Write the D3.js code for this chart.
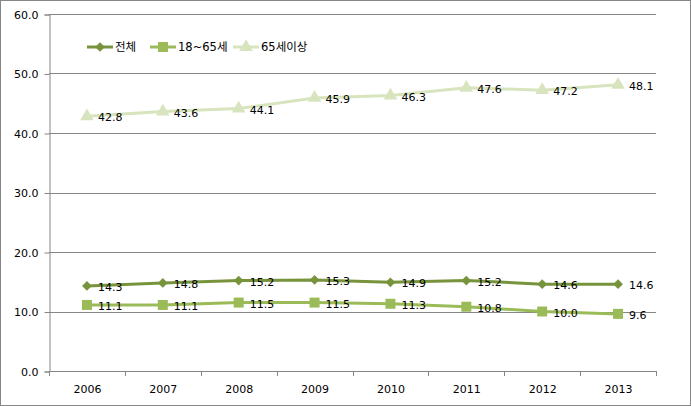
<!DOCTYPE html>
<html><head><meta charset="utf-8">
<script src="https://cdn.jsdelivr.net/npm/d3@7"></script>
<style>body{margin:0;background:#fff}svg{display:block}</style>
</head><body>
<svg id="c" width="691" height="406"></svg>
<script>
const years = ["2006","2007","2008","2009","2010","2011","2012","2013"];
const seriesNames = ["전체","18~65세","65세이상"];
const total = [14.3,14.8,15.2,15.3,14.9,15.2,14.6,14.6];
const age18to65 = [11.1,11.1,11.5,11.5,11.3,10.8,10.0,9.6];
const age65plus = [42.8,43.6,44.1,45.9,46.3,47.6,47.2,48.1];
const yTicks = [0,10,20,30,40,50,60];
const colors = ["#77933C","#9BBB59","#D7E4BD"];
const symbols = [d3.symbolDiamond2 || d3.symbolDiamond, d3.symbolSquare, d3.symbolTriangle];
const symSizes = [60,100,80];

const svg = d3.select("#c");
const font = "'DejaVu Sans','Noto Sans CJK KR',sans-serif";
svg.append("rect").attr("x",0.5).attr("y",0.5).attr("width",690).attr("height",405)
  .attr("fill","#fff").attr("stroke","#868686");

const L=49,R=656,T=14,B=371;
const x = d3.scaleBand().domain(years).range([L,R]);
const y = d3.scaleLinear().domain([0,60]).range([B,T]);

svg.append("g").selectAll("line").data(yTicks.filter(d=>d>0)).join("line")
  .attr("x1",L).attr("x2",R).attr("y1",d=>Math.round(y(d))+0.5).attr("y2",d=>Math.round(y(d))+0.5)
  .attr("stroke","#868686").attr("stroke-width",1);

const yAxis = svg.append("g").attr("transform",`translate(${L+0.5},0.5)`)
  .call(d3.axisLeft(y).tickValues(yTicks).tickFormat(d3.format(".1f")).tickSize(5).tickPadding(6));
const xAxis = svg.append("g").attr("transform",`translate(0.5,${B+0.5})`)
  .call(d3.axisBottom(x).tickSize(0).tickPadding(14));
svg.append("g").selectAll("line").data(years.concat(["end"])).join("line")
  .attr("x1",(d,i)=>Math.round(L+i*x.bandwidth())+0.5).attr("x2",(d,i)=>Math.round(L+i*x.bandwidth())+0.5)
  .attr("y1",B).attr("y2",B+5).attr("stroke","#868686");
[yAxis,xAxis].forEach(g=>{
  g.selectAll("path,line").attr("stroke","#868686");
  g.selectAll("text").attr("font-family",font).attr("font-size","11px").attr("fill","#000");
});
xAxis.select(".domain").attr("d",`M${L},0H${R}`);

const data = [total, age18to65, age65plus];
const line = d3.line().x((d,i)=>x(years[i])+x.bandwidth()/2).y(d=>y(d));
data.forEach((vals,s)=>{
  const g = svg.append("g");
  g.append("path").attr("d",line(vals)).attr("fill","none").attr("stroke",colors[s]).attr("stroke-width",3);
  g.selectAll("path.m").data(vals).join("path").attr("class","m")
    .attr("d",d3.symbol().type(symbols[s]).size(symSizes[s]))
    .attr("transform",(d,i)=>`translate(${x(years[i])+x.bandwidth()/2},${y(d)})`)
    .attr("fill",colors[s]);
  g.selectAll("text").data(vals).join("text")
    .attr("x",(d,i)=>x(years[i])+x.bandwidth()/2+11)
    .attr("y",d=>y(d)+2)
    .attr("dominant-baseline","middle")
    .attr("font-family",font).attr("font-size","11px").attr("fill","#000")
    .text(d=>d.toFixed(1));
});

const legX = [87,150,233];
const lg = svg.append("g");
seriesNames.forEach((n,s)=>{
  const ly = 47;
  lg.append("line").attr("x1",legX[s]).attr("x2",legX[s]+26).attr("y1",ly).attr("y2",ly)
    .attr("stroke",colors[s]).attr("stroke-width",3);
  lg.append("path").attr("d",d3.symbol().type(symbols[s]).size(symSizes[s]))
    .attr("transform",`translate(${legX[s]+13},${ly})`).attr("fill",colors[s]);
  lg.append("text").attr("x",legX[s]+28).attr("y",ly).attr("dominant-baseline","middle")
    .attr("font-family",font).attr("font-size","11.5px").attr("fill","#000").text(n);
});
</script>
</body></html>
